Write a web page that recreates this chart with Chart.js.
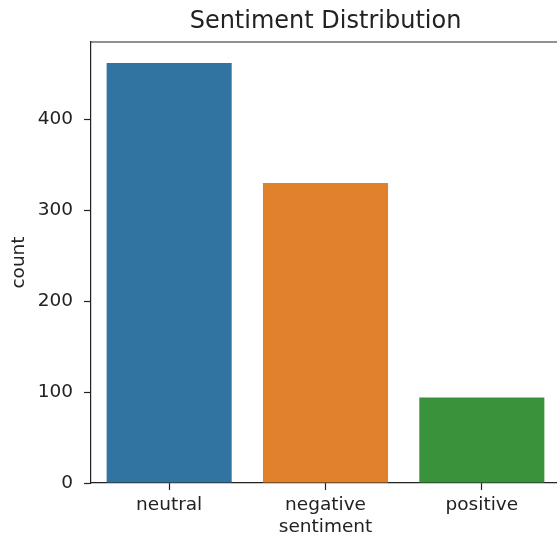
<!DOCTYPE html>
<html>
<head>
<meta charset="utf-8">
<script src="https://cdn.jsdelivr.net/npm/chart.js@4/dist/chart.umd.min.js"></script>
<style>
	html, body { margin: 0; padding: 0; background: #fff; overflow: hidden; }
	#wrap { width: 557px; height: 544px; overflow: hidden; }
</style>
</head>
<body>
<div id="wrap"><canvas id="sentChart" width="560" height="544"></canvas></div>
<script>
const categories = ["neutral", "negative", "positive"]
const counts = [462, 330, 94]
const barColors = ["#3274a1", "#e1812c", "#3a923a"]
const yTicks = [0, 100, 200, 300, 400]

const ink = '#222'
const fontFamily = '"DejaVu Sans", sans-serif'

// matplotlib draws all four spines, chart.js only gives us left + bottom
const boxPlugin = {
	id: 'boxPlugin',
	afterDraw(chart) {
		const { ctx, chartArea } = chart
		ctx.save()
		ctx.strokeStyle = ink
		ctx.lineWidth = 1.2
		ctx.beginPath()
		ctx.moveTo(chartArea.left, chartArea.top)
		ctx.lineTo(chartArea.right, chartArea.top)
		ctx.lineTo(chartArea.right, chartArea.bottom)
		ctx.stroke()
		ctx.restore()
	}
}

new Chart(document.getElementById('sentChart'), {
	type: 'bar',
	data: {
		labels: categories,
		datasets: [{
			label: 'count',
			data: counts,
			backgroundColor: barColors,
			borderWidth: 0,
			barPercentage: 0.8,
			categoryPercentage: 1
		}]
	},
	options: {
		responsive: false,
		devicePixelRatio: 1,
		animation: false,
		layout: { padding: 0 },
		plugins: {
			legend: { display: false },
			tooltip: { enabled: false },
			title: {
				display: true,
				text: 'Sentiment Distribution',
				fullSize: false,
				color: ink,
				font: { family: fontFamily, size: 24, weight: 'normal', lineHeight: 1.2 },
				padding: { top: 7.6, bottom: 5.6 }
			}
		},
		scales: {
			x: {
				offset: true,
				grid: { display: true, drawOnChartArea: false, drawTicks: true, tickLength: 7, tickWidth: 1.2, color: ink, offset: false },
				border: { display: true, color: ink, width: 1.2 },
				ticks: { color: ink, padding: 4, font: { family: fontFamily, size: 18.5 } },
				title: { display: true, text: 'sentiment', color: ink, font: { family: fontFamily, size: 18.5 }, padding: { top: 0, bottom: 6 } },
				afterFit(scale) { scale.height = 61 }
			},
			y: {
				min: 0,
				max: 485,
				grid: { display: true, drawOnChartArea: false, drawTicks: true, tickLength: 7, tickWidth: 1.2, color: ink },
				border: { display: true, color: ink, width: 1.2 },
				afterBuildTicks(scale) { scale.ticks = yTicks.map(v => ({ value: v })) },
				ticks: { color: ink, padding: 11, font: { family: fontFamily, size: 18.5 } },
				title: { display: true, text: 'count', color: ink, font: { family: fontFamily, size: 18.5 }, padding: { top: 8, bottom: 0 } },
				afterFit(scale) { scale.width = 91 }
			}
		}
	},
	plugins: [boxPlugin]
})
</script>
</body>
</html>
